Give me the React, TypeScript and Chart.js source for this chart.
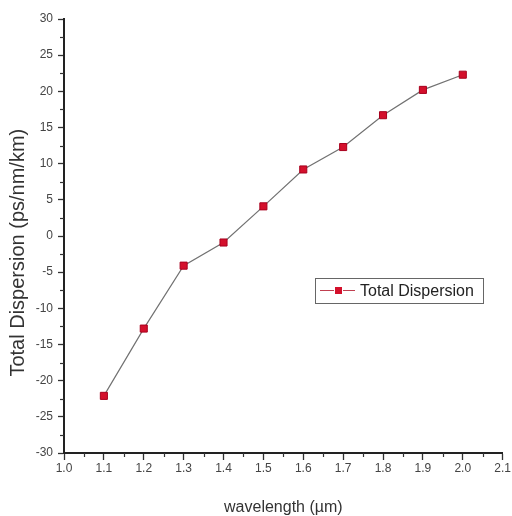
import React, { useEffect, useRef } from "react";
import { Chart, registerables } from "chart.js";

Chart.register(...registerables);

const wavelengths = [1.1, 1.2, 1.3, 1.4, 1.5, 1.6, 1.7, 1.8, 1.9, 2.0];
const totalDispersion = [-22.1, -12.8, -4.1, -0.9, 4.1, 9.2, 12.3, 16.7, 20.2, 22.3];
const seriesLabel = "Total Dispersion";
const xTitle = "wavelength (\u00b5m)";
const yTitle = "Total Dispersion (ps/nm/km)      ";
const xMin = 1.0, xMax = 2.1, xStep = 0.1;
const yMin = -30, yMax = 30, yStep = 5;

const FONT = "'Liberation Sans', Arial, sans-serif";
const MARK = "#d4102c";
const MARK_EDGE = "#a8001e";
const LINE = "#727272";

const minorTicks = {
  id: "minorTicks",
  afterDraw(chart: any) {
    const ctx = chart.ctx;
    const xs = chart.scales.x;
    const ys = chart.scales.y;
    ctx.save();
    ctx.strokeStyle = "#333";
    ctx.lineWidth = 1.2;
    const xt = xs.ticks.map((t: any) => t.value);
    for (let i = 0; i < xt.length - 1; i++) {
      const px = Math.round(xs.getPixelForValue((xt[i] + xt[i + 1]) / 2)) + 0.5;
      ctx.beginPath();
      ctx.moveTo(px, xs.top);
      ctx.lineTo(px, xs.top + 4);
      ctx.stroke();
    }
    const yt = ys.ticks.map((t: any) => t.value);
    for (let i = 0; i < yt.length - 1; i++) {
      const py = Math.round(ys.getPixelForValue((yt[i] + yt[i + 1]) / 2)) + 0.5;
      ctx.beginPath();
      ctx.moveTo(ys.right, py);
      ctx.lineTo(ys.right - 4, py);
      ctx.stroke();
    }
    ctx.restore();
  },
};

const boxLegend = {
  id: "boxLegend",
  afterDraw(chart: any) {
    const ctx = chart.ctx;
    const x0 = 315, y0 = 278, w = 168, h = 25;
    const cy = y0 + h / 2;
    ctx.save();
    ctx.fillStyle = "#fff";
    ctx.fillRect(x0, y0, w, h);
    ctx.strokeStyle = "#666";
    ctx.lineWidth = 1;
    ctx.strokeRect(x0 + 0.5, y0 + 0.5, w, h);
    ctx.strokeStyle = "#c04050";
    ctx.lineWidth = 1;
    ctx.beginPath();
    ctx.moveTo(x0 + 5, cy);
    ctx.lineTo(x0 + 19, cy);
    ctx.moveTo(x0 + 28, cy);
    ctx.lineTo(x0 + 40, cy);
    ctx.stroke();
    ctx.fillStyle = MARK;
    ctx.fillRect(x0 + 20, cy - 3.5, 7, 7);
    ctx.fillStyle = "#222";
    ctx.font = `16px ${FONT}`;
    ctx.textBaseline = "middle";
    ctx.textAlign = "left";
    ctx.fillText(seriesLabel, x0 + 45, cy + 1);
    ctx.restore();
  },
};

export default function App() {
  const ref = useRef<HTMLCanvasElement | null>(null);

  useEffect(() => {
    if (!ref.current) return;
    const chart = new Chart(ref.current, {
      type: "line",
      data: {
        datasets: [
          {
            label: seriesLabel,
            data: wavelengths.map((x, i) => ({ x, y: totalDispersion[i] })),
            borderColor: LINE,
            borderWidth: 1.2,
            pointStyle: "rect",
            pointRadius: 5,
            pointBackgroundColor: MARK,
            pointBorderColor: MARK_EDGE,
            pointBorderWidth: 1,
            tension: 0,
            fill: false,
          },
        ],
      },
      options: {
        animation: false,
        responsive: false,
        layout: { padding: { top: 19, right: 9, left: 0, bottom: 0 } },
        plugins: {
          legend: { display: false },
          tooltip: { enabled: false },
        },
        scales: {
          x: {
            type: "linear",
            min: xMin,
            max: xMax,
            afterFit: (s: any) => {
              s.height = 63;
            },
            ticks: {
              stepSize: xStep,
              autoSkip: false,
              maxRotation: 0,
              padding: 1,
              color: "#444",
              font: { family: FONT, size: 12 },
              callback: (v: any) => Number(v).toFixed(1),
            },
            grid: {
              display: true,
              drawOnChartArea: false,
              drawTicks: true,
              tickLength: 7,
              tickColor: "#333",
              tickWidth: 1.3,
            },
            border: { display: true, color: "#222", width: 2 },
            title: {
              display: true,
              text: xTitle,
              color: "#333",
              font: { family: FONT, size: 16, lineHeight: 1 },
              padding: { top: 0, bottom: 0 },
            },
          },
          y: {
            type: "linear",
            min: yMin,
            max: yMax,
            afterFit: (s: any) => {
              s.width = 64;
            },
            ticks: {
              stepSize: yStep,
              padding: 5,
              color: "#444",
              font: { family: FONT, size: 12 },
            },
            grid: {
              display: true,
              drawOnChartArea: false,
              drawTicks: true,
              tickLength: 6,
              tickColor: "#333",
              tickWidth: 1.3,
            },
            border: { display: true, color: "#222", width: 2 },
            title: {
              display: true,
              text: yTitle,
              color: "#333",
              font: { family: FONT, size: 20, lineHeight: 1 },
              padding: { top: 8, bottom: 0 },
            },
          },
        },
      },
      plugins: [minorTicks, boxLegend],
    });
    return () => chart.destroy();
  }, []);

  return (
    <div style={{ position: "fixed", left: 0, top: 0, width: 512, height: 516, background: "#fff" }}>
      <canvas ref={ref} width={512} height={516} style={{ display: "block" }} />
    </div>
  );
}
